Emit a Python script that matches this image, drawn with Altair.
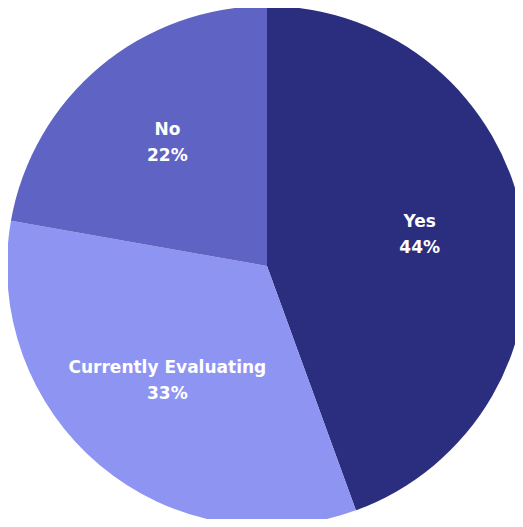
import altair as alt
import pandas as pd

categories = ["Yes", "Currently Evaluating", "No"]
values = [4, 3, 2]
percent_labels = ["44%", "33%", "22%"]
colors = ["#2B2D7E", "#8E94F2", "#5F63C4"]

df = pd.DataFrame({
    "category": categories,
    "value": values,
    "order": list(range(len(categories))),
    "label": [f"{c}\n{p}" for c, p in zip(categories, percent_labels)],
})

base = alt.Chart(df).encode(
    theta=alt.Theta("value:Q", stack=True),
    order=alt.Order("order:Q"),
)

arcs = base.mark_arc(outerRadius=260).encode(
    color=alt.Color("category:N", scale=alt.Scale(domain=categories, range=colors), legend=None)
)

text = base.mark_text(
    radius=155, dy=-17, lineBreak="\n", lineHeight=26, font="DejaVu Sans", fontWeight="bold",
    fontSize=17, color="white", align="center", baseline="middle"
).encode(text="label:N")

chart = (arcs + text).properties(
    width=496, height=500,
    padding={"left": 11, "top": 8, "right": 0, "bottom": 3},
    autosize=alt.AutoSizeParams(type="none"),
).configure_view(stroke=None)

chart.save("out.html", embed_options={"renderer": "svg", "actions": False})
